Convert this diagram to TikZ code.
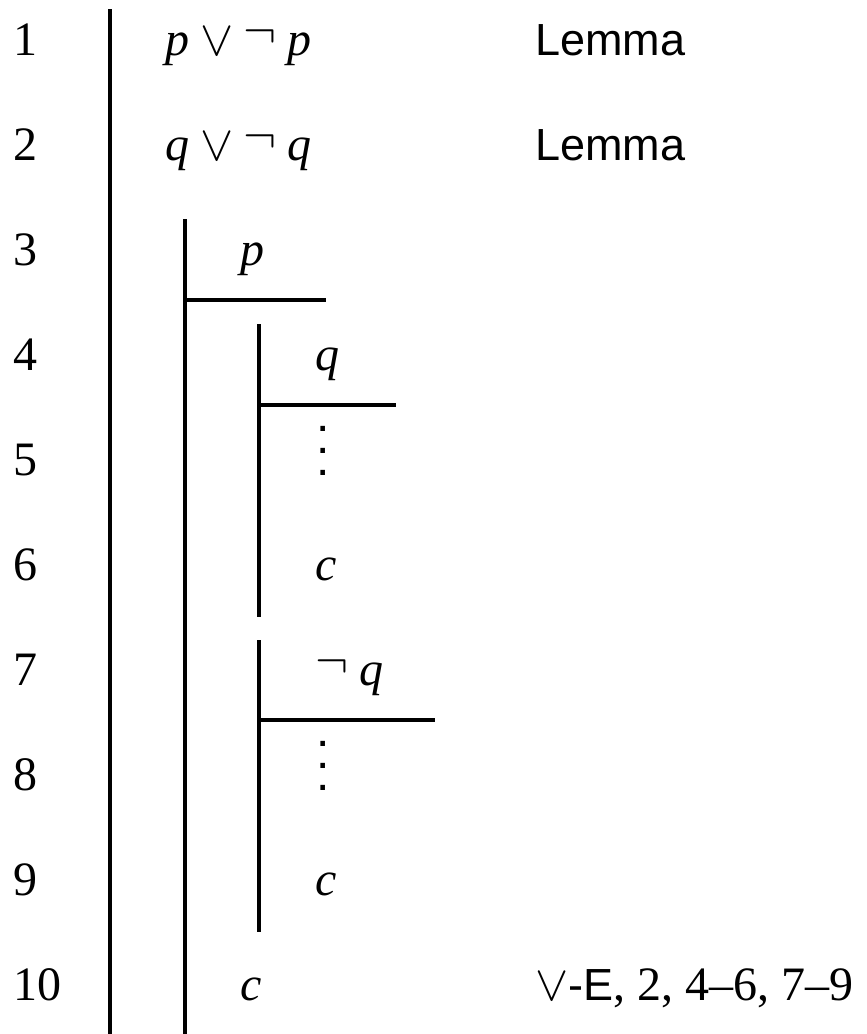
\documentclass[tikz,border=0pt]{standalone}
\usepackage{fontspec}
\setmainfont{Liberation Serif}
\setsansfont{Liberation Sans}
\usetikzlibrary{positioning,calc}

% symbols of the proof
\newcommand{\fneg}{\raisebox{0.15em}{$\neg$}}
\newcommand{\fsans}[1]{{\fontsize{22.5}{27}\sffamily #1}}
\newcommand{\fdots}{\vbox{\baselineskip=11pt\lineskiplimit=-20pt\hbox{\sffamily .}\hbox{\sffamily .}\hbox{\sffamily .}}}

\begin{document}
\begin{tikzpicture}[x=0.5pt, y=-0.5pt, font=\fontsize{24}{28}\selectfont]
    % Style definitions
    \tikzset{
        num/.style={anchor=base west, inner sep=0pt},
        fml/.style={anchor=base west, inner sep=0pt},
        why/.style={anchor=base west, inner sep=0pt},
        bar/.style={line width=2pt}
    }
    \useasboundingbox (0,0) rectangle (867,1034);

    % Line numbers
    \node [num] (n1) at (13,55) {1};
    \node [num] (n2) at (13,160) {2};
    \node [num] (n3) at (13,265) {3};
    \node [num] (n4) at (13,370) {4};
    \node [num] (n5) at (13,475) {5};
    \node [num] (n6) at (13,580) {6};
    \node [num] (n7) at (13,685) {7};
    \node [num] (n8) at (13,790) {8};
    \node [num] (n9) at (13,895) {9};
    \node [num] (n10) at (13,1000) {10};

    % Formulas
    \node [fml] (f1) at (165,55) {\textit{p}\:$\vee$\:\fneg\:\textit{p}};
    \node [fml] (f2) at (165,160) {\textit{q}\:$\vee$\:\fneg\:\textit{q}};
    \node [fml] (f3) at (240,265) {\textit{p}};
    \node [fml] (f4) at (315,370) {\textit{q}};
    \node [fml] (f5) at (316,475) {\fdots};
    \node [fml] (f6) at (315,580) {\textit{c}};
    \node [fml] (f7) at (315,685) {\fneg\:\textit{q}};
    \node [fml] (f8) at (316,790) {\fdots};
    \node [fml] (f9) at (315,895) {\textit{c}};
    \node [fml] (f10) at (240,1000) {\textit{c}};

    % Justifications
    \node [why] (w1) at (535,55) {\fsans{Lemma}};
    \node [why] (w2) at (535,160) {\fsans{Lemma}};
    \node [why] (w10) at (535,1000) {$\vee$\fsans{-E}, 2, 4--6, 7--9};

    % Scope bars
    \draw [bar] (110,9) -- (110,1034);
    \draw [bar] (185,219) -- (185,1034);
    \draw [bar] (185,300) -- (326,300);
    \draw [bar] (259,324) -- (259,617);
    \draw [bar] (259,405) -- (396,405);
    \draw [bar] (259,640) -- (259,932);
    \draw [bar] (259,720) -- (435,720);
\end{tikzpicture}
\end{document}
